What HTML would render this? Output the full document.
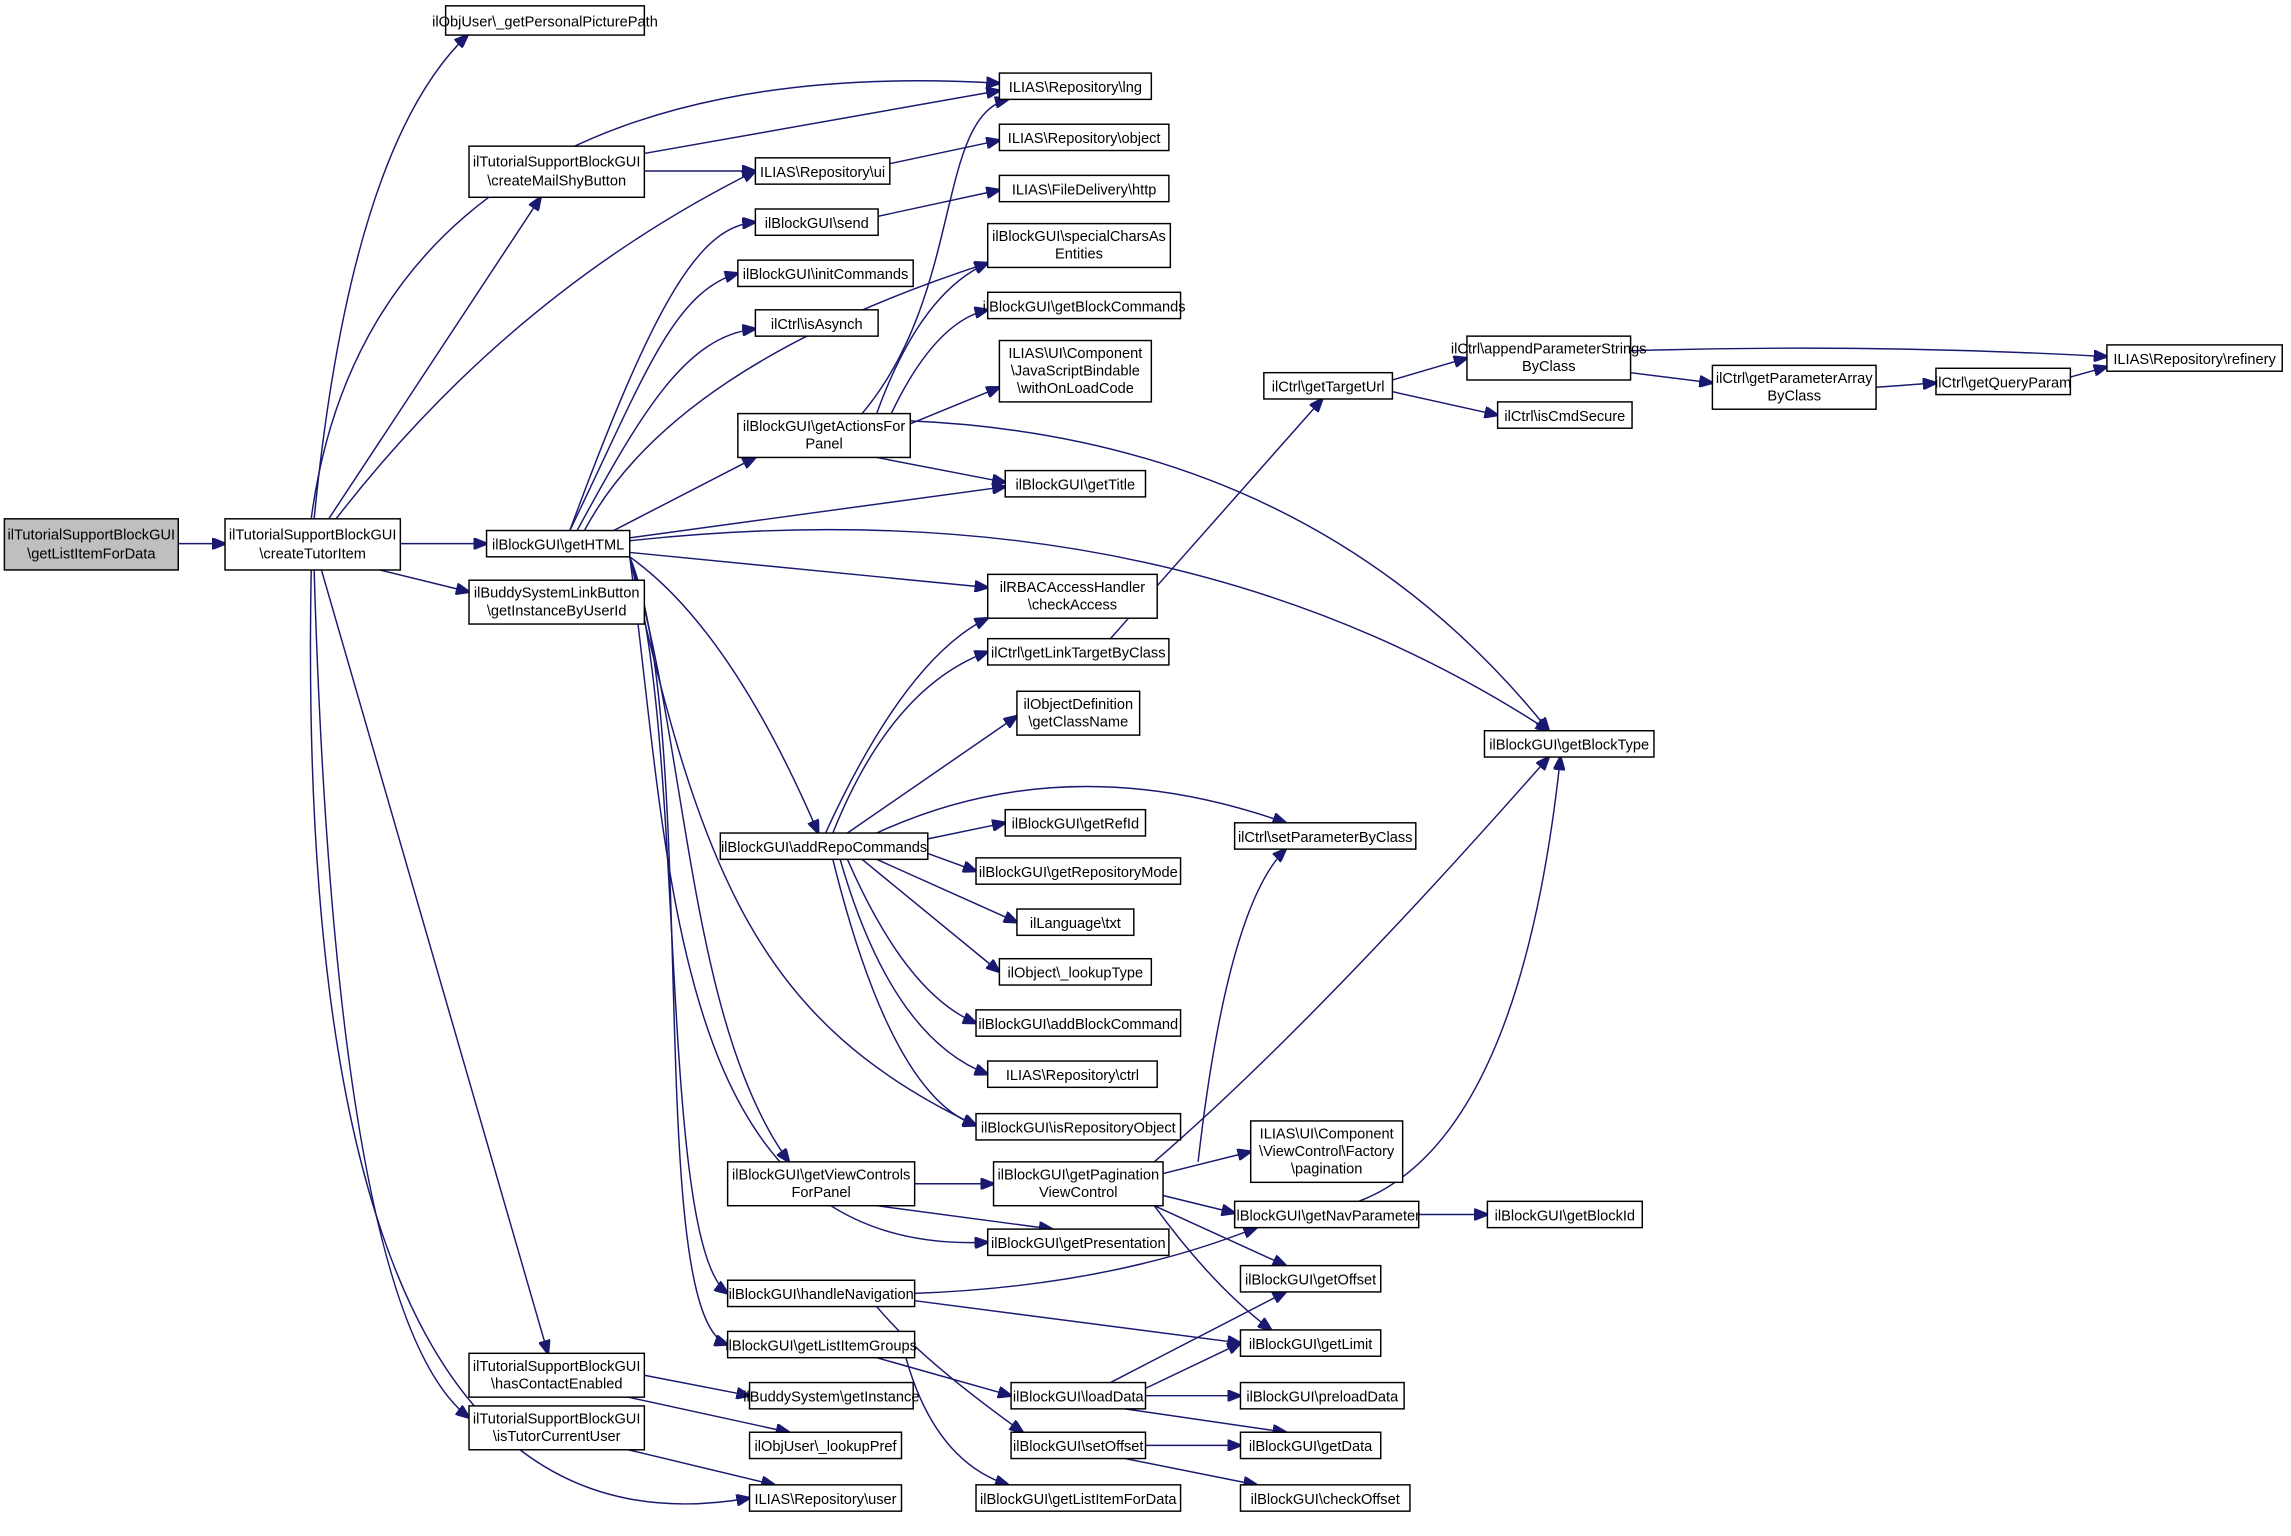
<!DOCTYPE html>
<html><head><meta charset="utf-8"><style>
html,body{margin:0;padding:0;background:#fff;}
svg{display:block;}
text{font-family:"Liberation Sans",Arial,sans-serif;font-size:10px;fill:#000;text-anchor:middle;}
rect{fill:#fff;stroke:#000;stroke-width:1;}
path{fill:none;stroke:#191970;stroke-width:1;marker-end:url(#ah);}
</style></head><body>
<svg width="2291" height="1536" viewBox="0 0 1568 1051" preserveAspectRatio="none">
<defs><marker id="ah" markerWidth="10" markerHeight="8" refX="9" refY="4" orient="auto" markerUnits="userSpaceOnUse"><polygon points="0,0 10,4 0,8" fill="#191970" stroke="#191970"/></marker></defs>
<g>
<path d="M122,372 L154,372"/>
<path d="M215,355 Q240,100 320,24"/>
<path d="M213,355 C240,150 400,40 684,57"/>
<path d="M225,355 L370,135"/>
<path d="M230,355 Q350,200 517,117"/>
<path d="M274,372 L333,372"/>
<path d="M260,390 L321,405"/>
<path d="M220,390 L375,926"/>
<path d="M215,390 Q230,900 321,970"/>
<path d="M213,390 Q200,1080 513,1025"/>
<path d="M441,105 L684,62"/>
<path d="M441,117 L517,117"/>
<path d="M609,112 L684,96"/>
<path d="M601,148 L684,130"/>
<path d="M390,363 C450,200 480,155 517,152"/>
<path d="M390,363 C440,260 460,200 505,187"/>
<path d="M395,363 C440,280 470,230 517,225"/>
<path d="M400,363 Q460,250 676,180"/>
<path d="M420,363 L517,313"/>
<path d="M431,368 L688,333"/>
<path d="M431,370 Q800,330 1060,500"/>
<path d="M431,378 L676,402"/>
<path d="M431,381 Q500,430 560,570"/>
<path d="M431,381 C480,600 520,700 668,770"/>
<path d="M431,381 C470,500 470,700 540,795"/>
<path d="M431,381 C460,600 460,860 676,850"/>
<path d="M431,381 C470,500 450,850 498,885"/>
<path d="M431,381 C480,500 440,900 498,920"/>
<path d="M600,283 Q630,200 676,180"/>
<path d="M610,283 Q640,220 676,212"/>
<path d="M623,290 L684,265"/>
<path d="M600,313 L688,330"/>
<path d="M623,288 Q900,300 1060,500"/>
<path d="M590,283 C660,200 640,80 690,68"/>
<path d="M565,570 Q620,450 676,423"/>
<path d="M570,570 Q610,470 676,446"/>
<path d="M580,570 L696,490"/>
<path d="M600,570 Q730,510 880,563"/>
<path d="M635,574 L688,563"/>
<path d="M635,584 L668,596"/>
<path d="M600,588 L696,631"/>
<path d="M590,588 L684,665"/>
<path d="M580,588 Q620,680 668,700"/>
<path d="M575,588 Q610,710 676,735"/>
<path d="M570,588 Q610,750 668,770"/>
<path d="M760,437 L905,273"/>
<path d="M953,260 L1004,245"/>
<path d="M953,268 L1025,284"/>
<path d="M1116,240 Q1280,235 1442,244"/>
<path d="M1116,255 L1172,262"/>
<path d="M1284,265 L1325,262"/>
<path d="M1417,258 L1442,251"/>
<path d="M626,810 L680,810"/>
<path d="M600,825 L720,841"/>
<path d="M796,803 L856,788"/>
<path d="M796,818 L845,830"/>
<path d="M790,795 Q900,700 1060,518"/>
<path d="M820,795 Q840,620 880,581"/>
<path d="M790,825 L880,866"/>
<path d="M790,825 Q830,880 870,910"/>
<path d="M971,831 L1018,831"/>
<path d="M930,822 Q1040,780 1068,518"/>
<path d="M626,885 Q760,880 860,840"/>
<path d="M626,890 L849,919"/>
<path d="M600,894 Q630,930 700,980"/>
<path d="M600,929 L692,955"/>
<path d="M620,929 Q640,1000 690,1016"/>
<path d="M760,946 L880,884"/>
<path d="M784,950 L849,919"/>
<path d="M784,955 L849,955"/>
<path d="M770,964 L880,980"/>
<path d="M784,989 L849,989"/>
<path d="M770,998 L860,1016"/>
<path d="M441,941 L513,955"/>
<path d="M430,956 L540,980"/>
<path d="M430,992 L530,1016"/>
</g>
<g>
<rect x="3" y="355" width="119" height="35" style="fill:#bfbfbf"/><text x="62.5" y="369">ilTutorialSupportBlockGUI</text><text x="62.5" y="382">\getListItemForData</text>
<rect x="154" y="355" width="120" height="35"/><text x="214" y="369">ilTutorialSupportBlockGUI</text><text x="214" y="382">\createTutorItem</text>
<rect x="305" y="4" width="136" height="20"/><text x="373" y="18">ilObjUser\_getPersonalPicturePath</text>
<rect x="684" y="50" width="104" height="18"/><text x="736" y="63">ILIAS\Repository\lng</text>
<rect x="321" y="100" width="120" height="35"/><text x="381" y="114">ilTutorialSupportBlockGUI</text><text x="381" y="127">\createMailShyButton</text>
<rect x="517" y="108" width="92" height="18"/><text x="563" y="121">ILIAS\Repository\ui</text>
<rect x="684" y="85" width="116" height="18"/><text x="742" y="98">ILIAS\Repository\object</text>
<rect x="684" y="120" width="116" height="18"/><text x="742" y="133">ILIAS\FileDelivery\http</text>
<rect x="517" y="143" width="84" height="18"/><text x="559" y="156">ilBlockGUI\send</text>
<rect x="676" y="153" width="125" height="30"/><text x="738.5" y="165">ilBlockGUI\specialCharsAs</text><text x="738.5" y="177">Entities</text>
<rect x="505" y="178" width="120" height="18"/><text x="565" y="191">ilBlockGUI\initCommands</text>
<rect x="676" y="200" width="132" height="18"/><text x="742" y="213">ilBlockGUI\getBlockCommands</text>
<rect x="517" y="212" width="84" height="18"/><text x="559" y="225">ilCtrl\isAsynch</text>
<rect x="684" y="233" width="104" height="42"/><text x="736" y="245">ILIAS\UI\Component</text><text x="736" y="257">\JavaScriptBindable</text><text x="736" y="269">\withOnLoadCode</text>
<rect x="505" y="283" width="118" height="30"/><text x="564" y="295">ilBlockGUI\getActionsFor</text><text x="564" y="307">Panel</text>
<rect x="688" y="322" width="96" height="18"/><text x="736" y="335">ilBlockGUI\getTitle</text>
<rect x="333" y="363" width="98" height="18"/><text x="382" y="376">ilBlockGUI\getHTML</text>
<rect x="321" y="397" width="120" height="30"/><text x="381" y="409">ilBuddySystemLinkButton</text><text x="381" y="421">\getInstanceByUserId</text>
<rect x="676" y="393" width="116" height="30"/><text x="734" y="405">ilRBACAccessHandler</text><text x="734" y="417">\checkAccess</text>
<rect x="676" y="437" width="124" height="18"/><text x="738" y="450">ilCtrl\getLinkTargetByClass</text>
<rect x="696" y="473" width="84" height="30"/><text x="738" y="485">ilObjectDefinition</text><text x="738" y="497">\getClassName</text>
<rect x="493" y="570" width="142" height="18"/><text x="564" y="583">ilBlockGUI\addRepoCommands</text>
<rect x="688" y="554" width="96" height="18"/><text x="736" y="567">ilBlockGUI\getRefId</text>
<rect x="668" y="587" width="140" height="18"/><text x="738" y="600">ilBlockGUI\getRepositoryMode</text>
<rect x="696" y="622" width="80" height="18"/><text x="736" y="635">ilLanguage\txt</text>
<rect x="684" y="656" width="104" height="18"/><text x="736" y="669">ilObject\_lookupType</text>
<rect x="668" y="691" width="140" height="18"/><text x="738" y="704">ilBlockGUI\addBlockCommand</text>
<rect x="676" y="726" width="116" height="18"/><text x="734" y="739">ILIAS\Repository\ctrl</text>
<rect x="668" y="762" width="140" height="18"/><text x="738" y="775">ilBlockGUI\isRepositoryObject</text>
<rect x="498" y="795" width="128" height="30"/><text x="562" y="807">ilBlockGUI\getViewControls</text><text x="562" y="819">ForPanel</text>
<rect x="680" y="795" width="116" height="30"/><text x="738" y="807">ilBlockGUI\getPagination</text><text x="738" y="819">ViewControl</text>
<rect x="856" y="767" width="104" height="42"/><text x="908" y="779">ILIAS\UI\Component</text><text x="908" y="791">\ViewControl\Factory</text><text x="908" y="803">\pagination</text>
<rect x="845" y="822" width="126" height="18"/><text x="908" y="835">ilBlockGUI\getNavParameter</text>
<rect x="1018" y="822" width="106" height="18"/><text x="1071" y="835">ilBlockGUI\getBlockId</text>
<rect x="676" y="841" width="124" height="18"/><text x="738" y="854">ilBlockGUI\getPresentation</text>
<rect x="498" y="876" width="128" height="18"/><text x="562" y="889">ilBlockGUI\handleNavigation</text>
<rect x="849" y="866" width="96" height="18"/><text x="897" y="879">ilBlockGUI\getOffset</text>
<rect x="498" y="911" width="128" height="18"/><text x="562" y="924">ilBlockGUI\getListItemGroups</text>
<rect x="849" y="910" width="96" height="18"/><text x="897" y="923">ilBlockGUI\getLimit</text>
<rect x="321" y="926" width="120" height="30"/><text x="381" y="938">ilTutorialSupportBlockGUI</text><text x="381" y="950">\hasContactEnabled</text>
<rect x="513" y="946" width="112" height="18"/><text x="569" y="959">ilBuddySystem\getInstance</text>
<rect x="692" y="946" width="92" height="18"/><text x="738" y="959">ilBlockGUI\loadData</text>
<rect x="849" y="946" width="112" height="18"/><text x="905" y="959">ilBlockGUI\preloadData</text>
<rect x="321" y="962" width="120" height="30"/><text x="381" y="974">ilTutorialSupportBlockGUI</text><text x="381" y="986">\isTutorCurrentUser</text>
<rect x="513" y="980" width="104" height="18"/><text x="565" y="993">ilObjUser\_lookupPref</text>
<rect x="692" y="980" width="92" height="18"/><text x="738" y="993">ilBlockGUI\setOffset</text>
<rect x="849" y="980" width="96" height="18"/><text x="897" y="993">ilBlockGUI\getData</text>
<rect x="513" y="1016" width="104" height="18"/><text x="565" y="1029">ILIAS\Repository\user</text>
<rect x="668" y="1016" width="140" height="18"/><text x="738" y="1029">ilBlockGUI\getListItemForData</text>
<rect x="849" y="1016" width="116" height="18"/><text x="907" y="1029">ilBlockGUI\checkOffset</text>
<rect x="865" y="255" width="88" height="18"/><text x="909" y="268">ilCtrl\getTargetUrl</text>
<rect x="1004" y="230" width="112" height="30"/><text x="1060" y="242">ilCtrl\appendParameterStrings</text><text x="1060" y="254">ByClass</text>
<rect x="1025" y="275" width="92" height="18"/><text x="1071" y="288">ilCtrl\isCmdSecure</text>
<rect x="1172" y="250" width="112" height="30"/><text x="1228" y="262">ilCtrl\getParameterArray</text><text x="1228" y="274">ByClass</text>
<rect x="1325" y="252" width="92" height="18"/><text x="1371" y="265">ilCtrl\getQueryParam</text>
<rect x="1442" y="236" width="120" height="18"/><text x="1502" y="249">ILIAS\Repository\refinery</text>
<rect x="1016" y="500" width="116" height="18"/><text x="1074" y="513">ilBlockGUI\getBlockType</text>
<rect x="845" y="563" width="124" height="18"/><text x="907" y="576">ilCtrl\setParameterByClass</text>
</g>
</svg>
</body></html>
